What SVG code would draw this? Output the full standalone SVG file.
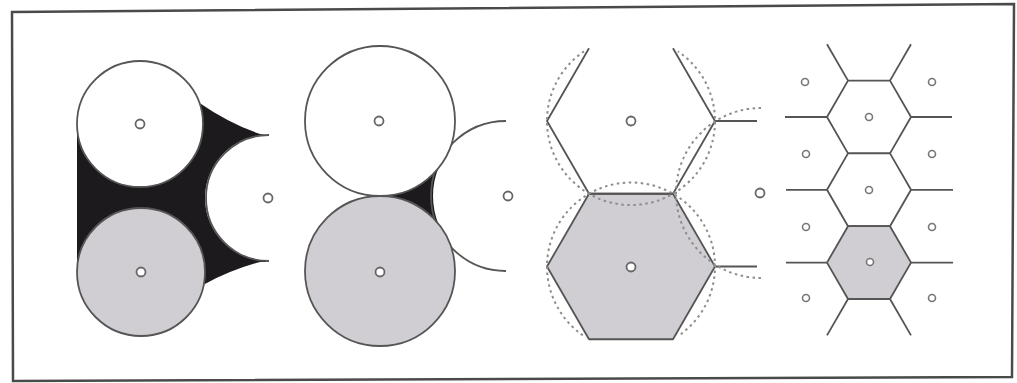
<svg xmlns="http://www.w3.org/2000/svg" width="1017" height="383" viewBox="0 0 1017 383">
<style>
.bg{fill:#ffffff}
.frame{fill:none;stroke:#4a4a4a;stroke-width:2.5}
.ln{fill:none;stroke:#555;stroke-width:1.8;stroke-linejoin:round}
.cw{fill:#ffffff;stroke:#555;stroke-width:1.8}
.cg{fill:#d0cdd3;stroke:#555;stroke-width:1.8}
.hw{fill:#ffffff;stroke:#555;stroke-width:1.8;stroke-linejoin:round}
.hg{fill:#d0cdd3;stroke:#555;stroke-width:1.8;stroke-linejoin:round}
.wf{fill:#ffffff;stroke:none}
.blk{fill:#1c1a1d;stroke:none}
.dash{fill:none;stroke:#8d8d8d;stroke-width:2;stroke-dasharray:2.5 3.5}
.dot{fill:#ffffff;stroke:#666;stroke-width:1.8}
.dots{fill:#ffffff;stroke:#777;stroke-width:1.6}
</style>
<rect class="bg" x="0" y="0" width="1017" height="383"/>
<polygon class="frame" points="12,12 1014,4 1012,377 13,381"/>

<g id="panel1">
  <path class="blk" d="M77,124 L198,102 Q230,124 260,134 L266,135 L266,262 L260,262 Q230,270 203,285 L77,272 Z"/>
  <circle class="wf" cx="268" cy="198" r="63"/>
  <path class="ln" d="M269,135 A63,63 0 0 0 269,261"/>
  <circle class="cw" cx="140" cy="124" r="63"/>
  <circle class="cg" cx="141" cy="272" r="64"/>
  <circle class="dot" cx="140" cy="124" r="4.5"/>
  <circle class="dot" cx="141" cy="272" r="4.5"/>
  <circle class="dot" cx="268" cy="198" r="4.5"/>
</g>

<g id="panel2">
  <polygon class="blk" points="380,196 445,150 445,240"/>
  <circle class="wf" cx="508" cy="196" r="75"/>
  <path class="ln" d="M506,121 A75,75 0 0 0 506,271"/>
  <circle class="cw" cx="380" cy="121" r="75"/>
  <circle class="cg" cx="380" cy="271" r="75"/>
  <circle class="dot" cx="379" cy="121" r="4.5"/>
  <circle class="dot" cx="380" cy="272" r="4.5"/>
  <circle class="dot" cx="508" cy="196" r="4.5"/>
</g>

<g id="panel3">
  <polygon class="hg" points="547,266.5 589,193.75 673,193.75 715,266.5 673,339.25 589,339.25"/>
  <path class="ln" d="M589,48.25 L547,121 L589,193.75 L673,193.75 L715,121 L673,48.25"/>
  <line class="ln" x1="715" y1="121" x2="757" y2="121"/>
  <line class="ln" x1="715" y1="266.5" x2="757" y2="266.5"/>
  <path class="dash" d="M584,51.4 A84,84 0 1 0 678,51.4"/>
  <path class="dash" d="M582.8,335.3 A84,84 0 1 1 679.2,335.3"/>
  <path class="dash" d="M761,108 A85,85 0 1 0 761,278"/>
  <circle class="dot" cx="631" cy="121" r="4.5"/>
  <circle class="dot" cx="631" cy="267" r="4.5"/>
  <circle class="dot" cx="760" cy="193" r="4.5"/>
</g>

<g id="panel4">
  <polygon class="hw" points="827,117 848,80.6 890,80.6 911,117 890,153.4 848,153.4"/>
  <polygon class="hw" points="827,189.8 848,153.4 890,153.4 911,189.8 890,226.2 848,226.2"/>
  <polygon class="hg" points="827,262.6 848,226.2 890,226.2 911,262.6 890,299 848,299"/>
  <line class="ln" x1="848" y1="80.6" x2="827" y2="44.2"/>
  <line class="ln" x1="890" y1="80.6" x2="911" y2="44.2"/>
  <line class="ln" x1="848" y1="299" x2="827" y2="335.4"/>
  <line class="ln" x1="890" y1="299" x2="911" y2="335.4"/>
  <line class="ln" x1="785" y1="117" x2="827" y2="117"/>
  <line class="ln" x1="786" y1="189.8" x2="827" y2="189.8"/>
  <line class="ln" x1="786" y1="262.6" x2="827" y2="262.6"/>
  <line class="ln" x1="911" y1="117" x2="952" y2="117"/>
  <line class="ln" x1="911" y1="189.8" x2="953" y2="189.8"/>
  <line class="ln" x1="911" y1="262.6" x2="953" y2="262.6"/>
  <circle class="dots" cx="869" cy="117" r="3.5"/>
  <circle class="dots" cx="869" cy="190" r="3.5"/>
  <circle class="dots" cx="870" cy="262" r="3.5"/>
  <circle class="dots" cx="805" cy="82" r="3.5"/>
  <circle class="dots" cx="806" cy="154" r="3.5"/>
  <circle class="dots" cx="806" cy="227" r="3.5"/>
  <circle class="dots" cx="806" cy="298" r="3.5"/>
  <circle class="dots" cx="932" cy="82" r="3.5"/>
  <circle class="dots" cx="932" cy="154" r="3.5"/>
  <circle class="dots" cx="932" cy="227" r="3.5"/>
  <circle class="dots" cx="932" cy="298" r="3.5"/>
</g>
</svg>
